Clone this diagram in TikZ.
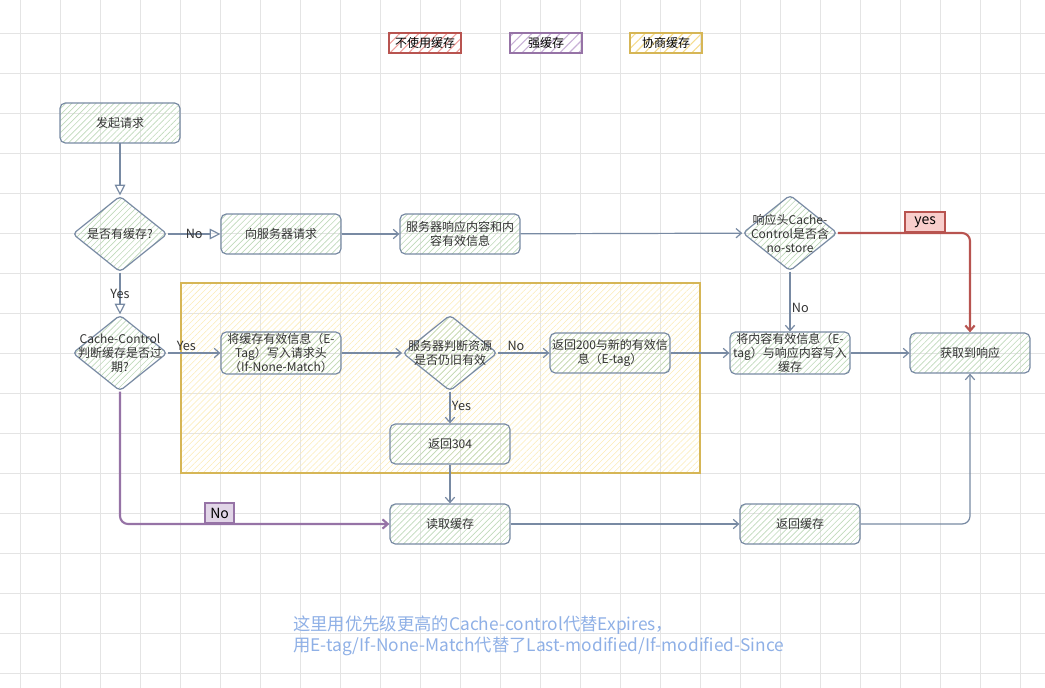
\documentclass[tikz,border=0pt]{standalone}
\usepackage{fontspec}
\setmainfont{Noto Sans CJK SC}
\usetikzlibrary{shapes.geometric,arrows.meta,patterns.meta,positioning}

\definecolor{edge}{HTML}{788AA3}
\definecolor{txt}{HTML}{333333}
\definecolor{greenhatch}{HTML}{BFD9BA}
\definecolor{redline}{HTML}{B85450}
\definecolor{redhatch}{HTML}{EE9E9A}
\definecolor{redfill}{HTML}{F8CECC}
\definecolor{purpleline}{HTML}{9673A6}
\definecolor{purplehatch}{HTML}{C8B0D6}
\definecolor{purplefill}{HTML}{E1D5E7}
\definecolor{yellowline}{HTML}{D6B656}
\definecolor{yellowhatch}{HTML}{FBEBB5}
\definecolor{legendyellow}{HTML}{F5DC8E}
\definecolor{notecolor}{HTML}{8FB0E6}
\definecolor{gridcolor}{HTML}{E4E4E4}

\tikzset{
  gridline/.style={gridcolor, line width=0.6pt},
  flow/.style={draw=edge, line width=0.9pt, rounded corners=4pt,
    minimum width=90pt, minimum height=30pt, inner sep=1pt,
    align=center, text=txt, font=\fontsize{9}{10.5}\selectfont,
    pattern={Lines[angle=45,distance=3.2pt,line width=0.5pt]},
    pattern color=greenhatch},
  decision/.style={diamond, draw=edge, line width=0.9pt, rounded corners=3pt,
    minimum width=71pt, minimum height=57pt, inner sep=0pt,
    pattern={Lines[angle=45,distance=3.2pt,line width=0.5pt]},
    pattern color=greenhatch},
  dtext/.style={align=center, text=txt, inner sep=0pt,
    font=\fontsize{9}{10.5}\selectfont},
  legend/.style={line width=1.6pt, minimum width=54pt, minimum height=15pt,
    inner sep=0pt, text=black, font=\fontsize{9}{10}\selectfont,
    pattern={Lines[angle=45,distance=5pt,line width=0.8pt]}},
  negbox/.style={draw=yellowline, line width=1.1pt, inner sep=0pt,
    minimum width=389pt, minimum height=142.5pt,
    pattern={Lines[angle=45,distance=3.2pt,line width=0.4pt]},
    pattern color=yellowhatch},
  hollow/.style={draw=edge, line width=0.9pt,
    -{Triangle[open,length=8pt,width=8pt]}},
  link/.style={draw=edge, line width=0.9pt,
    -{Straight Barb[length=4pt,width=7pt]}},
  nostore/.style={draw=redline, line width=1.6pt, rounded corners=6pt,
    -{Straight Barb[length=4pt,width=7pt]}},
  strong/.style={draw=purpleline, line width=1.6pt, rounded corners=6pt,
    -{Straight Barb[length=4pt,width=7pt]}},
  lbl/.style={text=txt, inner sep=1pt, font=\fontsize{9.5}{11}\selectfont},
  tagbox/.style={sharp corners, line width=1.3pt, minimum width=22pt,
    minimum height=15pt, inner sep=1pt, text=black,
    font=\fontsize{10.5}{11}\selectfont}
}

\begin{document}
\begin{tikzpicture}[x=0.75pt, y=-0.75pt]
  \useasboundingbox (0,0) rectangle (1045,688);

  % background grid
  \foreach \x in {20,60,...,1020}
    \draw[gridline] (\x,0) -- (\x,688);
  \foreach \y in {33,73,...,673}
    \draw[gridline] (0,\y) -- (1045,\y);

  % legend
  \node[legend, draw=redline, pattern color=redhatch] (noCache) at (425,43) {不使用缓存};
  \node[legend, draw=purpleline, pattern color=purplehatch] (strongCache) at (546,43) {强缓存};
  \node[legend, draw=yellowline, pattern color=legendyellow] (negCache) at (666,43) {协商缓存};

  % negotiation area
  \node[negbox] (negotiate) at (440.5,378) {};

  % first row
  \node[flow] (start) at (120,123) {发起请求};
  \node[decision, label={[dtext]center:是否有缓存?}] (hasCache) at (120,234) {};
  \node[flow] (askServer) at (281,234) {向服务器请求};
  \node[flow] (srvResp) at (460,234) {服务器响应内容和内\\容有效信息};
  \node[decision, label={[dtext]center:响应头Cache-\\Control是否含\\no-store}] (noStore) at (790,233) {};

  % second row
  \node[decision, label={[dtext]center:Cache-Control\\判断缓存是否过\\期?}] (cacheCtl) at (120,353) {};
  \node[flow] (addHeader) at (281,353) {将缓存有效信息（E-\\Tag）写入请求头\\（If-None-Match）};
  \node[decision, label={[dtext]center:服务器判断资源\\是否仍旧有效}] (checkRes) at (450,353) {};
  \node[flow] (ret200) at (610,353) {返回200与新的有效信\\息（E-tag）};
  \node[flow] (writeCache) at (790,353) {将内容有效信息（E-\\tag）与响应内容写入\\缓存};
  \node[flow] (gotResp) at (970,353) {获取到响应};

  % lower rows
  \node[flow] (ret304) at (450,444) {返回304};
  \node[flow] (readCache) at (450,524) {读取缓存};
  \node[flow] (retCache) at (800,524) {返回缓存};

  % connectors
  \draw[hollow] (start) -- (hasCache);
  \draw[hollow] (hasCache) -- node[lbl]{No} (askServer);
  \draw[hollow] (hasCache) -- node[lbl]{Yes} (cacheCtl);
  \draw[link] (askServer) -- (srvResp);
  \draw[link] (srvResp) -- (noStore);
  \draw[nostore] (noStore.east) -| node[pos=0.33, anchor=south, tagbox, minimum width=30pt, draw=redline, fill=redfill]{yes} (gotResp.north);
  \draw[link] (noStore) -- node[lbl, right, pos=0.6]{No} (writeCache);
  \draw[link] (writeCache) -- (gotResp);
  \draw[link] (cacheCtl) -- node[lbl, above, pos=0.35]{Yes} (addHeader);
  \draw[link] (addHeader) -- (checkRes);
  \draw[link] (checkRes) -- node[lbl, above, pos=0.35]{No} (ret200);
  \draw[link] (ret200) -- (writeCache);
  \draw[link] (checkRes) -- node[lbl, right, pos=0.45]{Yes} (ret304);
  \draw[link] (ret304) -- (readCache);
  \draw[strong] (cacheCtl.south) |- node[pos=0.685, anchor=south, tagbox, draw=purpleline, fill=purplefill]{No} (readCache.west);
  \draw[link] (readCache) -- (retCache);
  \draw[link, rounded corners=6pt] (retCache.east) -| (gotResp.south);

  % note
  \node[anchor=west, align=left, text=notecolor, inner sep=0pt,
    font=\fontsize{13}{15.5}\selectfont] (note) at (293,636)
    {这里用优先级更高的Cache-control代替Expires，\\用E-tag/If-None-Match代替了Last-modified/If-modified-Since};
\end{tikzpicture}
\end{document}
